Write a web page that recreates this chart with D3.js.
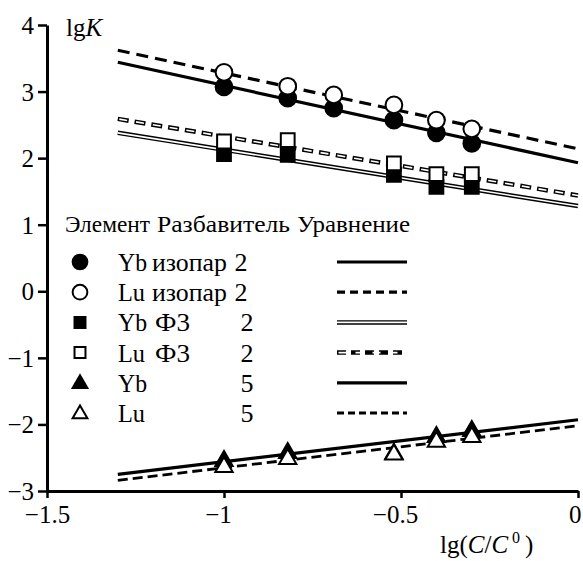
<!DOCTYPE html>
<html>
<head>
<meta charset="utf-8">
<script src="https://cdn.jsdelivr.net/npm/d3@7"></script>
<style>
  body { margin: 0; background: #fff; }
</style>
</head>
<body>
<div id="chart"></div>
<script>
// measured points, x = lg(C/C0)
var xs = [-1, -0.82, -0.69, -0.52, -0.4, -0.3];
var ybIzopar = [3.07, 2.9, 2.75, 2.57, 2.38, 2.22];
var luIzopar = [3.29, 3.08, 2.95, 2.8, 2.57, 2.44];
var xsF3 = [-1, -0.82, -0.52, -0.4, -0.3];
var ybF3 = [2.06, 2.05, 1.75, 1.57, 1.57];
var luF3 = [2.25, 2.27, 1.92, 1.76, 1.76];
var xs5 = [-1, -0.82, -0.52, -0.4, -0.3];
var yb5 = [-2.55, -2.43, -2.44, -2.19, -2.1];
var lu5 = [-2.64, -2.52, -2.45, -2.26, -2.19];

// fitted lines, ends at x = -1.3 and x = 0
var fitX = [-1.3, 0];
var fitYbIzopar = [3.44, 1.93];
var fitLuIzopar = [3.62, 2.14];
var fitYbF3 = [2.38, 1.28];
var fitLuF3 = [2.59, 1.44];
var fitYb5 = [-2.75, -1.93];
var fitLu5 = [-2.84, -2.02];

var yTicks = [-3, -2, -1, 0, 1, 2, 3, 4];
var xTicks = [-1.5, -1, -0.5, 0];

var legendHead = ['Элемент', 'Разбавитель', 'Уравнение'];
var legendElem = ['Yb', 'Lu', 'Yb', 'Lu', 'Yb', 'Lu'];
var legendDil = ['изопар', 'изопар', 'Ф3', 'Ф3', '', ''];
var legendEq = ['2', '2', '2', '2', '5', '5'];

var width = 583, height = 561;
var serif = '"Times New Roman"';
var minus = function(d) { return d3.format('')(d).replace('-', '\u2212'); };

var x = d3.scaleLinear().domain([-1.5, 0]).range([47, 578]);
var y = d3.scaleLinear().domain([-3, 4]).range([491, 25]);

var svg = d3.select('#chart').append('svg')
  .attr('width', width)
  .attr('height', height)
  .attr('font-family', serif);

// line styles
var styles = {
  solid: { w: 3.2, dash: null },
  dashed: { w: 3.2, dash: '12,7' },
  double: { w: 4.5, dash: null, inner: 1.6 },
  doubleDash: { w: 4.5, dash: '11,6', inner: 1.6, innerDash: '8,9', innerOffset: -1.5 },
  dashedThin: { w: 2.8, dash: '10,5' }
};

function drawLine(g, pts, st, dash) {
  var line = d3.line().x(function(d) { return d[0]; }).y(function(d) { return d[1]; });
  g.append('path').attr('d', line(pts))
    .attr('fill', 'none').attr('stroke', '#000')
    .attr('stroke-width', st.w)
    .attr('stroke-dasharray', dash || st.dash);
  if (st.inner) {
    g.append('path').attr('d', line(pts))
      .attr('fill', 'none').attr('stroke', '#fff')
      .attr('stroke-width', st.inner)
      .attr('stroke-dasharray', st.innerDash || null)
      .attr('stroke-dashoffset', st.innerOffset || 0);
  }
}

var fits = [
  [fitYbIzopar, styles.solid],
  [fitLuIzopar, styles.dashed],
  [fitYbF3, styles.double],
  [fitLuF3, styles.doubleDash],
  [fitYb5, styles.solid],
  [fitLu5, styles.dashedThin]
];

var lines = svg.append('g');
fits.forEach(function(f) {
  var pts = fitX.map(function(v, i) { return [x(v), y(f[0][i])]; });
  drawLine(lines, pts, f[1]);
});

// markers
var sym = {
  circle: d3.symbol().type(d3.symbolCircle).size(220),
  square: d3.symbol().type(d3.symbolSquare).size(190),
  triangle: d3.symbol().type(d3.symbolTriangle).size(130)
};

function drawMarkers(g, xv, yv, shape, filled) {
  g.selectAll(null).data(xv).enter().append('path')
    .attr('d', sym[shape])
    .attr('transform', function(d, i) { return 'translate(' + x(d) + ',' + y(yv[i]) + ')'; })
    .attr('fill', filled ? '#000' : '#fff')
    .attr('stroke', '#000')
    .attr('stroke-width', 2);
}

var marks = svg.append('g');
drawMarkers(marks, xs, ybIzopar, 'circle', true);
drawMarkers(marks, xs, luIzopar, 'circle', false);
drawMarkers(marks, xsF3, ybF3, 'square', true);
drawMarkers(marks, xsF3, luF3, 'square', false);
drawMarkers(marks, xs5, yb5, 'triangle', true);
drawMarkers(marks, xs5, lu5, 'triangle', false);

// axes
var yAxis = svg.append('g')
  .attr('transform', 'translate(' + x(-1.5) + ',0)')
  .call(d3.axisLeft(y).tickValues(yTicks).tickSize(9).tickSizeOuter(0).tickFormat(minus));
var xAxis = svg.append('g')
  .attr('transform', 'translate(0,' + y(-3) + ')')
  .call(d3.axisBottom(x).tickValues(xTicks).tickSize(7).tickSizeOuter(0).tickFormat(minus));

[yAxis, xAxis].forEach(function(a) {
  a.attr('font-family', serif).attr('font-size', 25);
  a.select('.domain').attr('stroke-width', 3);
  a.selectAll('.tick line').attr('stroke-width', 2.5);
});
yAxis.selectAll('.tick text').attr('x', -13).attr('dy', '0.34em');
xAxis.selectAll('.tick text').attr('y', 12).attr('dy', '0.8em')
  .attr('text-anchor', function(d) { return d === 0 ? 'end' : 'middle'; })
  .attr('dx', function(d) { return d === 0 ? 3 : (d > -1.5 ? -6 : 0); });

// axis titles
var t1 = svg.append('text').attr('x', 66).attr('y', 36).attr('font-size', 25);
t1.append('tspan').text('lg');
t1.append('tspan').attr('font-style', 'italic').text('K');

var t2 = svg.append('text').attr('x', 440).attr('y', 553).attr('font-size', 25);
t2.append('tspan').text('lg(');
t2.append('tspan').attr('font-style', 'italic').text('C');
t2.append('tspan').text('/');
t2.append('tspan').attr('font-style', 'italic').text('C');
t2.append('tspan').attr('dy', -10).attr('dx', 4).attr('font-size', 16).text('0');
t2.append('tspan').attr('dy', 10).attr('dx', 5).text(')');

// legend
var leg = svg.append('g');
var headX = [65, 157, 297];
var headW = [85, 133, 113];
legendHead.forEach(function(h, i) {
  leg.append('text').attr('x', headX[i]).attr('y', 232)
    .attr('font-size', 23)
    .attr('textLength', headW[i]).attr('lengthAdjust', 'spacingAndGlyphs')
    .text(h);
});

var legShapes = [['circle', true], ['circle', false], ['square', true], ['square', false], ['triangle', true], ['triangle', false]];
var legStyles = [styles.solid, styles.dashed, styles.double, styles.doubleDash, styles.solid, styles.dashedThin];
var legDash = [null, '8,5', null, '9,5', null, '7,4'];
var legSym = {
  circle: d3.symbol().type(d3.symbolCircle).size(170),
  square: d3.symbol().type(d3.symbolSquare).size(120),
  triangle: d3.symbol().type(d3.symbolTriangle).size(95)
};

legendElem.forEach(function(e, i) {
  var ry = 262 + i * 30.2;
  leg.append('path')
    .attr('d', legSym[legShapes[i][0]])
    .attr('transform', 'translate(80,' + (ry + (legShapes[i][0] === 'triangle' ? 1 : 0)) + ')')
    .attr('fill', legShapes[i][1] ? '#000' : '#fff')
    .attr('stroke', '#000').attr('stroke-width', 2);
  leg.append('text').attr('x', 118).attr('y', ry + 9).attr('font-size', 26)
    .attr('textLength', e === 'Yb' ? 29 : 27).attr('lengthAdjust', 'spacingAndGlyphs').text(e);
  if (legendDil[i]) {
    var isIz = legendDil[i] === 'изопар';
    leg.append('text').attr('x', isIz ? 152 : 155).attr('y', ry + 9).attr('font-size', 26)
      .attr('textLength', isIz ? 75 : 35).attr('lengthAdjust', 'spacingAndGlyphs')
      .text(legendDil[i]);
  }
  leg.append('text').attr('x', i < 2 ? 241 : 247).attr('y', ry + 9).attr('text-anchor', 'middle')
    .attr('font-size', 26).text(legendEq[i]);
  drawLine(leg, [[337, ry], [407, ry]], legStyles[i], legDash[i]);
});
</script>
</body>
</html>
